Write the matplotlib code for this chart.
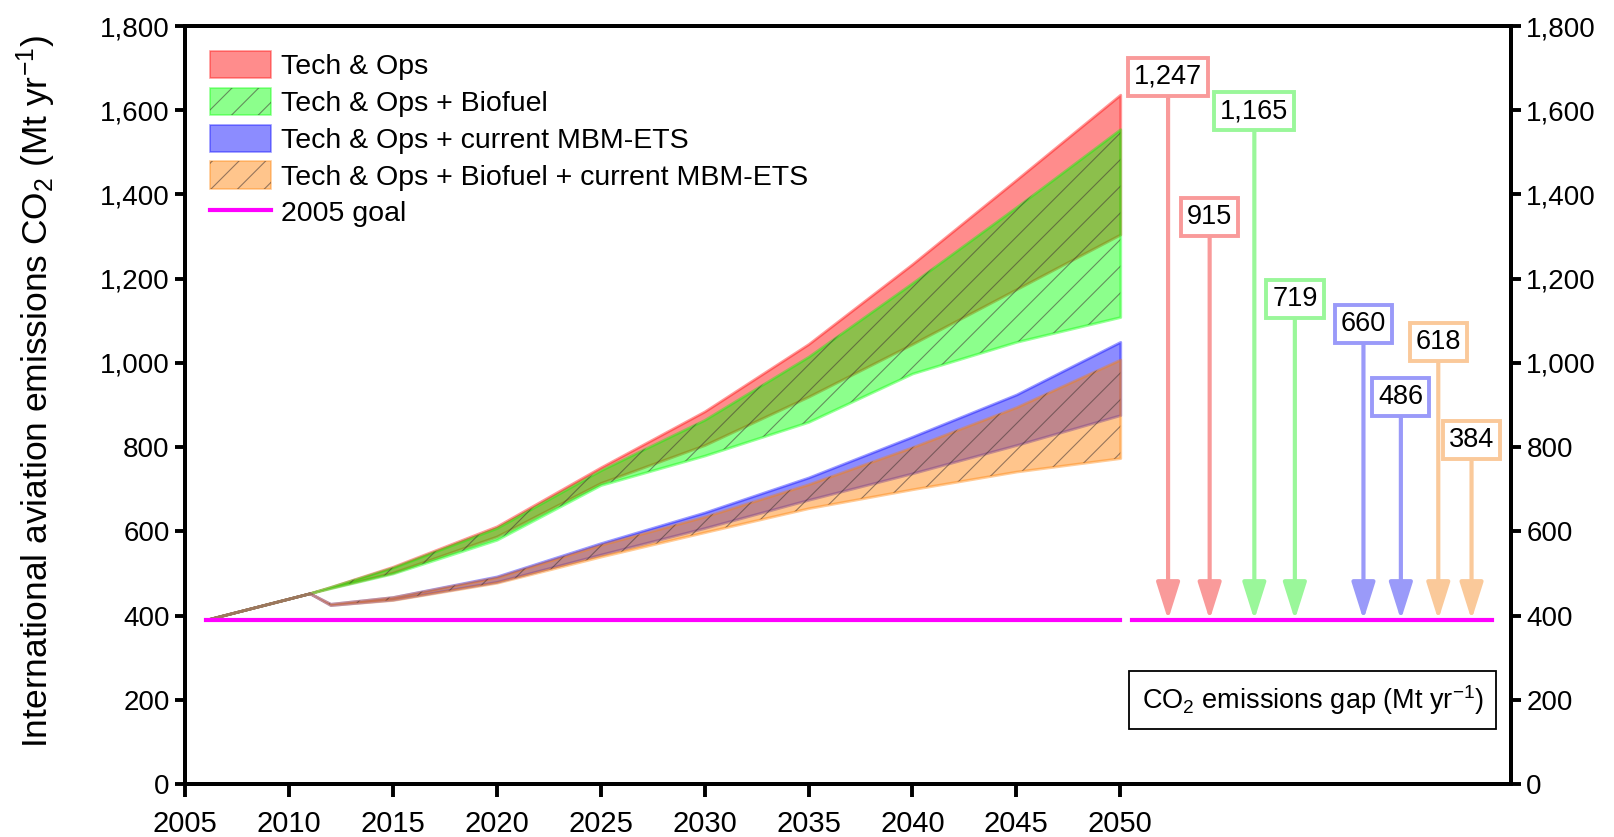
import numpy as np
import matplotlib
matplotlib.use("Agg")
from matplotlib import pyplot as plt
from matplotlib.patches import Patch
from matplotlib.lines import Line2D
from matplotlib.ticker import FuncFormatter
from matplotlib.legend_handler import HandlerTuple

# figure drawn at 160 dpi so that the '//' hatch gets the spacing of the original;
# all sizes below are written as if at 100 dpi and scaled by S
DPI = 160
S = 100.0 / DPI

plt.rcParams['font.family'] = ['Liberation Sans', 'DejaVu Sans']
plt.rcParams['mathtext.fontset'] = 'custom'
plt.rcParams['mathtext.rm'] = 'Liberation Sans'
plt.rcParams['mathtext.it'] = 'Liberation Sans:italic'
plt.rcParams['hatch.linewidth'] = 0.8 * S

# emissions, Mt CO2 per year
years = [2006, 2011, 2012, 2015, 2020, 2025, 2030, 2035, 2040, 2045, 2050]
tech_hi = [390, 453, 468, 516, 612, 752, 885, 1045, 1235, 1435, 1637]
tech_lo = [390, 453, 466, 502, 588, 715, 805, 920, 1045, 1175, 1305]
bio_hi = [390, 453, 468, 514, 608, 745, 865, 1015, 1190, 1370, 1555]
bio_lo = [390, 453, 465, 500, 580, 710, 780, 860, 975, 1050, 1109]
mbm_hi = [390, 453, 428, 444, 493, 572, 645, 728, 825, 925, 1050]
mbm_lo = [390, 453, 425, 438, 480, 545, 608, 675, 738, 805, 876]
both_hi = [390, 453, 428, 444, 491, 568, 635, 712, 800, 895, 1008]
both_lo = [390, 453, 425, 437, 478, 540, 598, 655, 700, 742, 774]
goal = 390

# emissions gap in 2050
gap_vals = [1247, 915, 1165, 719, 660, 486, 618, 384]
gap_labels = ['1,247', '915', '1,165', '719', '660', '486', '618', '384']

labels = ['Tech & Ops', 'Tech & Ops + Biofuel', 'Tech & Ops + current MBM-ETS',
          'Tech & Ops + Biofuel + current MBM-ETS', '2005 goal']

# layout of the gap arrows (x in years, right of 2050)
arrow_x = [2052.3, 2054.3, 2056.45, 2058.4, 2061.7, 2063.5, 2065.3, 2066.9]
arrow_col = ['#f99a9a', '#f99a9a', '#9af79a', '#9af79a', '#9a9af9', '#9a9af9', '#fac99a', '#fac99a']

fig = plt.figure(figsize=(1614 / DPI, 837 / DPI), dpi=DPI)
ax = fig.add_axes([0.1146, 0.0633, 0.8216, 0.9056])

hatch_col = (0.25, 0.2, 0.2, 0.55)
bands = [
    (tech_hi, tech_lo, (1, 0, 0), False),
    (bio_hi, bio_lo, (0, 1, 0), True),
    (mbm_hi, mbm_lo, (0, 0, 1), False),
    (both_hi, both_lo, (1, 0.5, 0), True),
]
handles = []
for hi, lo, c, hatched in bands:
    ax.fill_between(years, lo, hi, facecolor=c + (0.45,), edgecolor=c + (0.4,), linewidth=2.0 * S, zorder=2)
    h = [Patch(facecolor=c + (0.45,), edgecolor=c + (0.4,), linewidth=1.2 * S)]
    if hatched:
        ax.fill_between(years, lo, hi, facecolor='none', edgecolor=hatch_col, linewidth=0, hatch='//', zorder=3)
        h.append(Patch(facecolor='none', edgecolor=hatch_col, linewidth=0, hatch='//'))
    handles.append(tuple(h))

ax.plot([2006, 2050], [goal, goal], color='#ff00ff', lw=3 * S, zorder=4)
ax.plot([2050.55, 2067.9], [goal, goal], color='#ff00ff', lw=3 * S, zorder=4)
handles.append(Line2D([], [], color='#ff00ff', lw=3 * S))

for x, g, lab, c in zip(arrow_x, gap_vals, gap_labels, arrow_col):
    ax.annotate('', xy=(x, goal), xytext=(x, goal + g),
                arrowprops=dict(arrowstyle='-|>,head_length=0.95,head_width=0.3', color=c, lw=3 * S,
                                shrinkA=0, shrinkB=0, mutation_scale=24 * S), zorder=5)
    ax.annotate(lab, xy=(x, goal + g), xytext=(0, 3.5 * S), textcoords='offset points',
                ha='center', va='bottom', fontsize=19.5 * S, zorder=6,
                bbox=dict(boxstyle='square,pad=0.22', fc='white', ec=c, lw=2.8 * S))

ax.text(2059.25, 200, r'CO$_2$ emissions gap (Mt yr$^{-1}$)', ha='center', va='center', fontsize=19.5 * S,
        bbox=dict(boxstyle='square,pad=0.45', fc='white', ec='black', lw=1.3 * S))

ax.legend(handles, labels, loc='upper left', bbox_to_anchor=(0.0, 1.0), frameon=False, fontsize=20.5 * S,
          handlelength=2.15, handleheight=1.1, handletextpad=0.33, labelspacing=0.26, borderpad=0.5,
          borderaxespad=0.38, handler_map={tuple: HandlerTuple(ndivide=1)})

ax.set_xlim(2005, 2068.8)
ax.set_ylim(0, 1800)
ax.set_xticks(range(2005, 2051, 5))
yt = range(0, 1801, 200)
ax.set_yticks(yt)
fmt = FuncFormatter(lambda v, p: '{:,.0f}'.format(v))
ax.yaxis.set_major_formatter(fmt)
ax.set_ylabel(r'International aviation emissions CO$_2$ (Mt yr$^{-1}$)', fontsize=25.5 * S)
ax.yaxis.set_label_coords(-0.096, 0.518)

ax2 = ax.twinx()
ax2.set_ylim(0, 1800)
ax2.set_yticks(yt)
ax2.yaxis.set_major_formatter(fmt)

for a in (ax, ax2):
    for s in a.spines.values():
        s.set_linewidth(2.8 * S)
    a.tick_params(direction='out', length=7 * S, width=2.8 * S, pad=4 * S, labelsize=20 * S)
ax.tick_params(axis='x', length=9 * S, pad=10 * S, labelsize=21 * S)

fig.savefig('out.png', dpi=DPI)
